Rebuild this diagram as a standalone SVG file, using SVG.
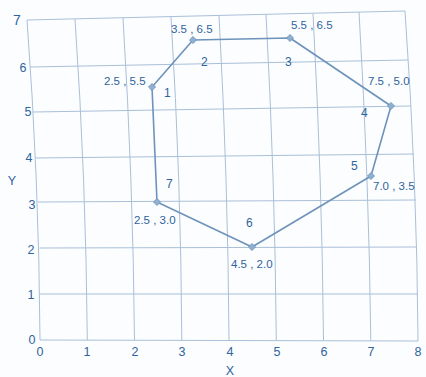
<svg xmlns="http://www.w3.org/2000/svg" width="426" height="377" viewBox="0 0 426 377">
<style>
.g{fill:none;stroke:#a9c0d8;stroke-width:1}
.poly{fill:none;stroke:#6d93bb;stroke-width:1.6;stroke-linejoin:round}
.pt{fill:#8fb0d0;stroke:#6d93bb;stroke-width:0.8}
text{font-family:"Liberation Sans",Arial,sans-serif;fill:#2f649c}
.c{font-size:11.5px}
.n{font-size:12px}
.t{font-size:12.5px;text-anchor:middle}
</style>
<rect width="426" height="377" fill="#fcfdfe"/>
<g id="grid">
<path class="g" d="M27,20 Q39,180 40,340"/>
<path class="g" d="M75,19 Q86,180 87.3,340"/>
<path class="g" d="M123,18 Q133,180 134.5,340"/>
<path class="g" d="M171,17 Q181,180 181.8,340"/>
<path class="g" d="M219,15.5 Q228,180 229,340.3"/>
<path class="g" d="M266,14.5 Q275,180 276.3,340.5"/>
<path class="g" d="M313,13.5 Q322,180 323.5,340.6"/>
<path class="g" d="M359,12 Q369,180 370.8,340.8"/>
<path class="g" d="M405,11 Q417,180 418,341"/>
<path class="g" d="M40,340 L418,341"/>
<path class="g" d="M40,294 L418,294"/>
<path class="g" d="M39.5,248 L417,247"/>
<path class="g" d="M38,202 L416,200"/>
<path class="g" d="M35.5,158 L414,154"/>
<path class="g" d="M33,112 L411,106"/>
<path class="g" d="M30,67 L408,60"/>
<path class="g" d="M27,20 L405,11"/>
</g>
<g id="connectors">
<polygon class="poly" points="152,87 193,40 290,38 391,106 371,176 252,247 157,202"/>
</g>
<g id="n1"><rect class="pt" x="149.5" y="84.5" width="5" height="5" transform="rotate(45 152 87)"/><text class="c" x="104" y="85">2.5 , 5.5</text><text class="n" x="164" y="97">1</text></g>
<g id="n2"><rect class="pt" x="190.5" y="37.5" width="5" height="5" transform="rotate(45 193 40)"/><text class="c" x="171" y="33">3.5 , 6.5</text><text class="n" x="201" y="66">2</text></g>
<g id="n3"><rect class="pt" x="287.5" y="35.5" width="5" height="5" transform="rotate(45 290 38)"/><text class="c" x="291" y="29">5.5 , 6.5</text><text class="n" x="285" y="66">3</text></g>
<g id="n4"><rect class="pt" x="388.5" y="103.5" width="5" height="5" transform="rotate(45 391 106)"/><text class="c" x="368" y="85">7.5 , 5.0</text><text class="n" x="361" y="117">4</text></g>
<g id="n5"><rect class="pt" x="368.5" y="173.5" width="5" height="5" transform="rotate(45 371 176)"/><text class="c" x="373" y="190">7.0 , 3.5</text><text class="n" x="351" y="170">5</text></g>
<g id="n6"><rect class="pt" x="249.5" y="244.5" width="5" height="5" transform="rotate(45 252 247)"/><text class="c" x="231" y="268">4.5 , 2.0</text><text class="n" x="246" y="227">6</text></g>
<g id="n7"><rect class="pt" x="154.5" y="199.5" width="5" height="5" transform="rotate(45 157 202)"/><text class="c" x="134" y="224">2.5 , 3.0</text><text class="n" x="166" y="188">7</text></g>
<g id="axes">
<text class="t" x="17" y="25" style="font-size:14px">7</text>
<text class="t" x="23" y="72">6</text>
<text class="t" x="28" y="116">5</text>
<text class="t" x="29" y="162">4</text>
<text class="t" x="12" y="185">Y</text>
<text class="t" x="32" y="209">3</text>
<text class="t" x="31" y="254">2</text>
<text class="t" x="31" y="299">1</text>
<text class="t" x="32" y="344">0</text>
<text class="t" x="40" y="356">0</text>
<text class="t" x="87" y="356">1</text>
<text class="t" x="135" y="356">2</text>
<text class="t" x="182" y="356">3</text>
<text class="t" x="230" y="356">4</text>
<text class="t" x="277" y="356">5</text>
<text class="t" x="324" y="356">6</text>
<text class="t" x="371" y="356">7</text>
<text class="t" x="418" y="356">8</text>
<text class="t" x="230" y="375">X</text>
</g>
</svg>
